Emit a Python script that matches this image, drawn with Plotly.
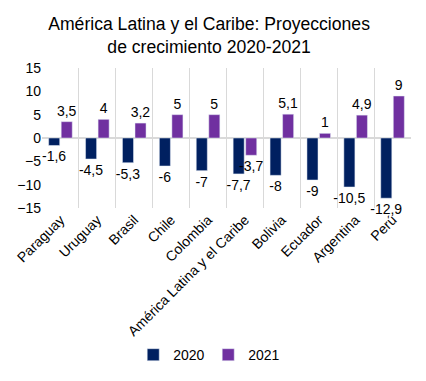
import plotly.graph_objects as go

categories = ["Paraguay", "Uruguay", "Brasil", "Chile", "Colombia",
              "América Latina y el Caribe", "Bolivia", "Ecuador", "Argentina", "Perú"]
values_2020 = [-1.6, -4.5, -5.3, -6, -7, -7.7, -8, -9, -10.5, -12.9]
values_2021 = [3.5, 4, 3.2, 5, 5, -3.7, 5.1, 1, 4.9, 9]
y_ticks = [-15, -10, -5, 0, 5, 10, 15]

def fmt(v):
    s = ("%g" % v).replace(".", ",")
    return s

fig = go.Figure()
fig.add_trace(go.Bar(x=categories, y=values_2020, name="2020",
                     marker_color="#002060",
                     text=[fmt(v) for v in values_2020], textposition="outside",
                     cliponaxis=False,
                     textfont=dict(size=14, color="#000000")))
fig.add_trace(go.Bar(x=categories, y=values_2021, name="2021",
                     marker_color="#7030A0",
                     text=[fmt(v) for v in values_2021], textposition="outside",
                     cliponaxis=False,
                     textfont=dict(size=14, color="#000000")))

fig.update_layout(
    width=426, height=381,
    margin=dict(l=34, r=23, t=60, b=181, autoexpand=False),
    paper_bgcolor="white", plot_bgcolor="white",
    font=dict(family="Liberation Sans, Arial, sans-serif", size=14, color="#000000"),
    title=dict(text="América Latina y el Caribe: Proyecciones<br>de crecimiento 2020-2021",
               x=0.472, xanchor="center", xref="container", yref="container",
               y=0.943, yanchor="middle",
               font=dict(size=17.6, color="#000000")),
    barmode="group", bargap=0.32, bargroupgap=0.12,
    uniformtext=dict(minsize=14, mode="show"),
    legend=dict(orientation="h", x=0.47, xanchor="center", xref="container",
                yref="container", y=0.089, yanchor="middle",
                font=dict(size=14), itemwidth=30, entrywidth=30,
                traceorder="normal"),
    showlegend=True,
)
fig.update_xaxes(tickangle=-45, showgrid=True, gridcolor="#D9D9D9", gridwidth=1,
                 tickson="boundaries", showline=False, ticks="",
                 tickfont=dict(size=14), automargin=False)
fig.update_yaxes(range=[-15, 15], tickvals=y_ticks, showgrid=False,
                 zeroline=True, zerolinecolor="#D9D9D9", zerolinewidth=1.5,
                 showline=False, ticks="", tickfont=dict(size=14), automargin=False)

fig.write_html("out.html")
